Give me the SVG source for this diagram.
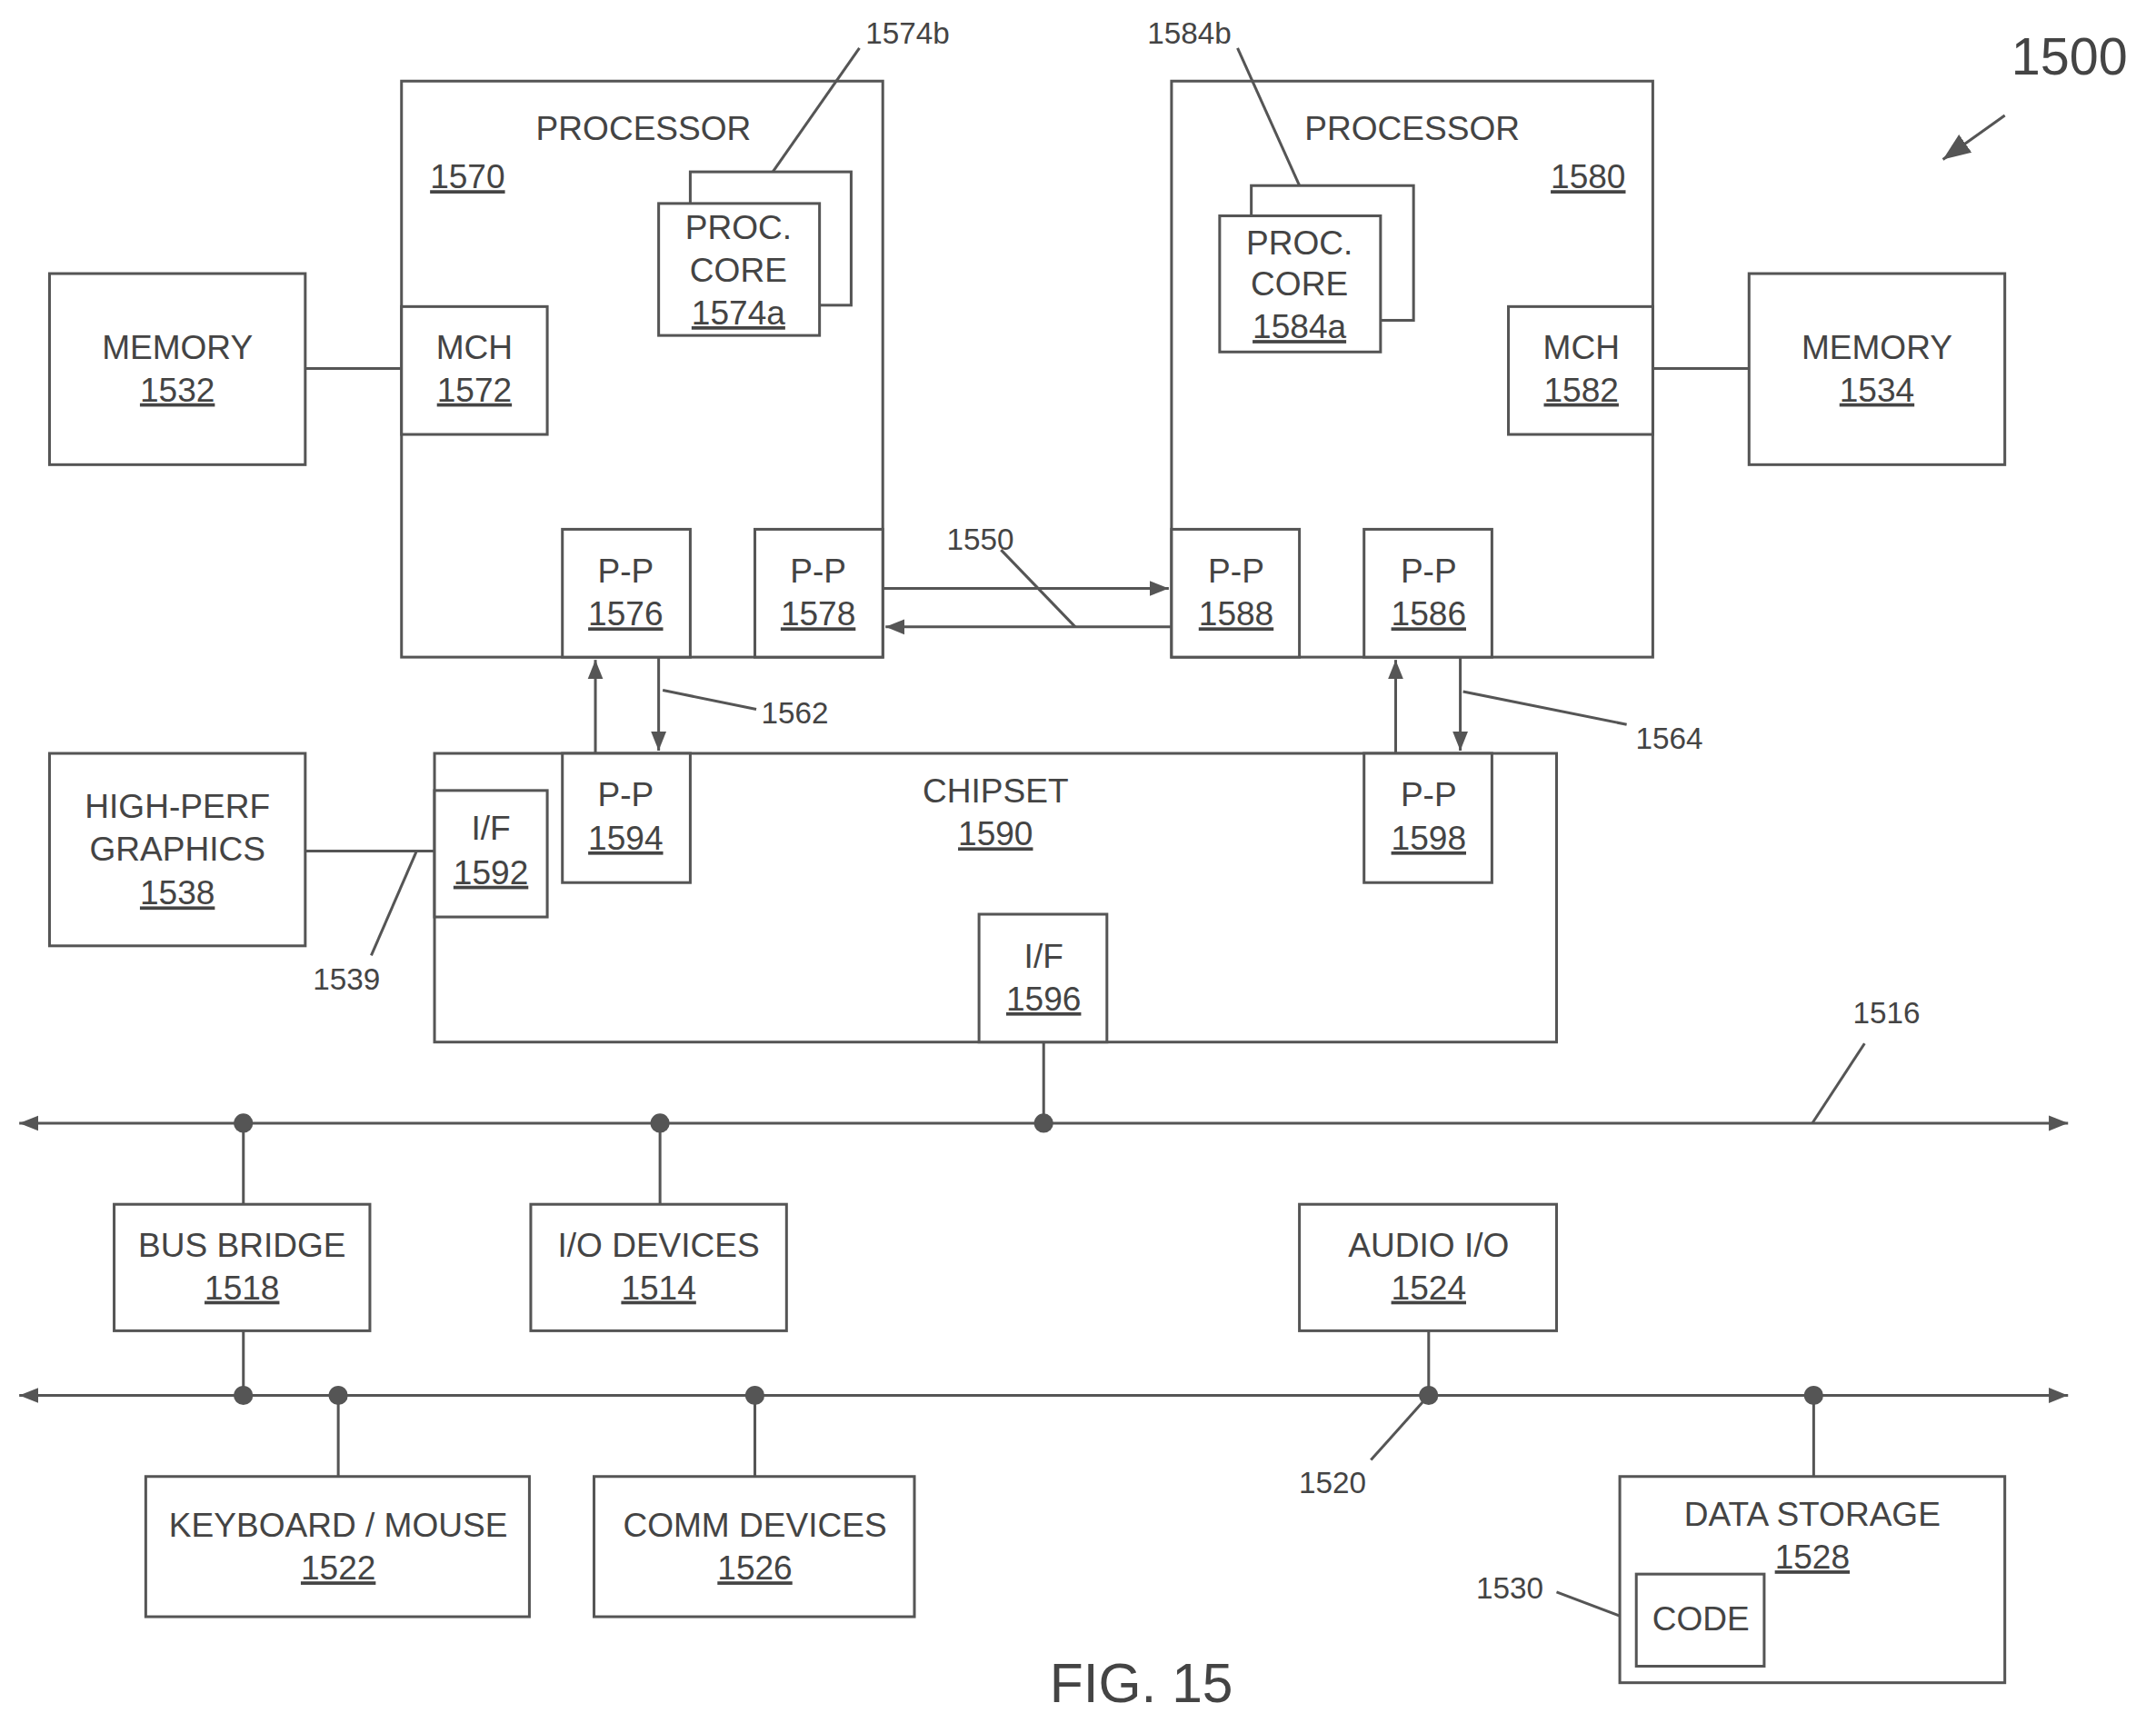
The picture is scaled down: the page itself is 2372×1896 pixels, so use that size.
<svg xmlns="http://www.w3.org/2000/svg" width="2372" height="1896" viewBox="0 0 2372 1896">
<style>
rect{fill:#fff;stroke:#555;stroke-width:2}
line,path{stroke:#555;stroke-width:2;fill:none}
text{font-family:"Liberation Sans",Arial,sans-serif;font-size:24.5px;fill:#444;text-anchor:middle}
.u{text-decoration:underline}
.l{font-size:22px}
circle{fill:#555}
</style>
<defs>
<marker id="b" viewBox="0 0 10 10" refX="10" refY="5" markerWidth="14" markerHeight="14" markerUnits="userSpaceOnUse" orient="auto-start-reverse"><path d="M0,1 L10,5 L0,9 z" style="fill:#555;stroke:none"/></marker>
<marker id="c" viewBox="0 0 10 10" refX="10" refY="5" markerWidth="20" markerHeight="20" markerUnits="userSpaceOnUse" orient="auto"><path d="M0,1 L10,5 L0,9 z" style="fill:#555;stroke:none"/></marker>
</defs>
<rect x="0" y="0" width="2372" height="1896" style="stroke:none"/>
<g transform="scale(1.5128)">
<g id="connectors">
<line x1="222" y1="268" x2="292" y2="268"/>
<line x1="1202" y1="268" x2="1272" y2="268"/>
<line x1="642" y1="428" x2="850" y2="428" marker-end="url(#b)"/>
<line x1="852" y1="456" x2="644" y2="456" marker-end="url(#b)"/>
<line x1="728" y1="400" x2="782" y2="456"/>
<line x1="433" y1="548" x2="433" y2="480" marker-end="url(#b)"/>
<line x1="479" y1="478" x2="479" y2="546" marker-end="url(#b)"/>
<line x1="482" y1="502" x2="550" y2="516"/>
<line x1="1015" y1="548" x2="1015" y2="480" marker-end="url(#b)"/>
<line x1="1062" y1="478" x2="1062" y2="546" marker-end="url(#b)"/>
<line x1="1064" y1="503" x2="1183" y2="527"/>
<line x1="222" y1="619" x2="316" y2="619"/>
<line x1="270" y1="695" x2="303" y2="619"/>
<line x1="14" y1="817" x2="1504" y2="817" marker-start="url(#b)" marker-end="url(#b)"/>
<line x1="14" y1="1015" x2="1504" y2="1015" marker-start="url(#b)" marker-end="url(#b)"/>
<line x1="759" y1="758" x2="759" y2="817"/>
<line x1="1318" y1="817" x2="1356" y2="759"/>
<line x1="177" y1="817" x2="177" y2="876"/>
<line x1="480" y1="817" x2="480" y2="876"/>
<line x1="177" y1="968" x2="177" y2="1015"/>
<line x1="1039" y1="968" x2="1039" y2="1015"/>
<line x1="246" y1="1015" x2="246" y2="1074"/>
<line x1="549" y1="1015" x2="549" y2="1074"/>
<line x1="1319" y1="1015" x2="1319" y2="1074"/>
<line x1="1039" y1="1015" x2="997" y2="1062"/>
<line x1="1132" y1="1158" x2="1190" y2="1180"/>
<line x1="1458" y1="84" x2="1413" y2="116" marker-end="url(#c)"/>
<circle cx="177" cy="817" r="7"/><circle cx="480" cy="817" r="7"/><circle cx="759" cy="817" r="7"/>
<circle cx="177" cy="1015" r="7"/><circle cx="246" cy="1015" r="7"/><circle cx="549" cy="1015" r="7"/><circle cx="1039" cy="1015" r="7"/><circle cx="1319" cy="1015" r="7"/>
</g>
<g id="proc1570"><rect x="292" y="59" width="350" height="419"/><text x="468" y="102">PROCESSOR</text><text x="340" y="137" class="u">1570</text></g>
<g id="core1574"><rect x="502" y="125" width="117" height="97"/><rect x="479" y="148" width="117" height="96"/><text x="537" y="174">PROC.</text><text x="537" y="205">CORE</text><text x="537" y="236" class="u">1574a</text><text x="660" y="32" class="l">1574b</text></g>
<g id="mch1572"><rect x="292" y="223" width="106" height="93"/><text x="345" y="261">MCH</text><text x="345" y="292" class="u">1572</text></g>
<g id="mem1532"><rect x="36" y="199" width="186" height="139"/><text x="129" y="261">MEMORY</text><text x="129" y="292" class="u">1532</text></g>
<g id="pp1576"><rect x="409" y="385" width="93" height="93"/><text x="455" y="424">P-P</text><text x="455" y="455" class="u">1576</text></g>
<g id="pp1578"><rect x="549" y="385" width="93" height="93"/><text x="595" y="424">P-P</text><text x="595" y="455" class="u">1578</text></g>
<g id="proc1580"><rect x="852" y="59" width="350" height="419"/><text x="1027" y="102">PROCESSOR</text><text x="1155" y="137" class="u">1580</text></g>
<g id="core1584"><rect x="910" y="135" width="118" height="98"/><rect x="887" y="157" width="117" height="99"/><text x="945" y="185">PROC.</text><text x="945" y="215">CORE</text><text x="945" y="246" class="u">1584a</text><text x="865" y="32" class="l">1584b</text></g>
<g id="mch1582"><rect x="1097" y="223" width="105" height="93"/><text x="1150" y="261">MCH</text><text x="1150" y="292" class="u">1582</text></g>
<g id="mem1534"><rect x="1272" y="199" width="186" height="139"/><text x="1365" y="261">MEMORY</text><text x="1365" y="292" class="u">1534</text></g>
<g id="pp1588"><rect x="852" y="385" width="93" height="93"/><text x="899" y="424">P-P</text><text x="899" y="455" class="u">1588</text></g>
<g id="pp1586"><rect x="992" y="385" width="93" height="93"/><text x="1039" y="424">P-P</text><text x="1039" y="455" class="u">1586</text></g>
<g id="labels"><text x="713" y="400" class="l">1550</text><text x="578" y="526" class="l">1562</text><text x="1214" y="545" class="l">1564</text><text x="252" y="720" class="l">1539</text><text x="1372" y="744" class="l">1516</text><text x="969" y="1086" class="l">1520</text><text x="1098" y="1163" class="l">1530</text></g>
<g id="chipset"><rect x="316" y="548" width="816" height="210"/><text x="724" y="584">CHIPSET</text><text x="724" y="615" class="u">1590</text></g>
<g id="pp1594"><rect x="409" y="548" width="93" height="94"/><text x="455" y="586">P-P</text><text x="455" y="618" class="u">1594</text></g>
<g id="pp1598"><rect x="992" y="548" width="93" height="94"/><text x="1039" y="586">P-P</text><text x="1039" y="618" class="u">1598</text></g>
<g id="if1592"><rect x="316" y="575" width="82" height="92"/><text x="357" y="611">I/F</text><text x="357" y="643" class="u">1592</text></g>
<g id="if1596"><rect x="712" y="665" width="93" height="93"/><text x="759" y="704">I/F</text><text x="759" y="735" class="u">1596</text></g>
<g id="gfx1538"><rect x="36" y="548" width="186" height="140"/><text x="129" y="595">HIGH-PERF</text><text x="129" y="626">GRAPHICS</text><text x="129" y="658" class="u">1538</text></g>
<g id="bb1518"><rect x="83" y="876" width="186" height="92"/><text x="176" y="914">BUS BRIDGE</text><text x="176" y="945" class="u">1518</text></g>
<g id="io1514"><rect x="386" y="876" width="186" height="92"/><text x="479" y="914">I/O DEVICES</text><text x="479" y="945" class="u">1514</text></g>
<g id="audio1524"><rect x="945" y="876" width="187" height="92"/><text x="1039" y="914">AUDIO I/O</text><text x="1039" y="945" class="u">1524</text></g>
<g id="kb1522"><rect x="106" y="1074" width="279" height="102"/><text x="246" y="1118">KEYBOARD / MOUSE</text><text x="246" y="1149" class="u">1522</text></g>
<g id="comm1526"><rect x="432" y="1074" width="233" height="102"/><text x="549" y="1118">COMM DEVICES</text><text x="549" y="1149" class="u">1526</text></g>
<g id="ds1528"><rect x="1178" y="1074" width="280" height="150"/><text x="1318" y="1110">DATA STORAGE</text><text x="1318" y="1141" class="u">1528</text></g>
<g id="code1530"><rect x="1190" y="1145" width="93" height="67"/><text x="1237" y="1186">CODE</text></g>
<g id="leaders">
<line x1="562" y1="125" x2="625" y2="35"/>
<line x1="945" y1="135" x2="900" y2="35"/>
</g>
<g id="title"><text x="830" y="1238" style="font-size:40px">FIG. 15</text><text x="1505" y="54" style="font-size:38px">1500</text></g>
</g>
</svg>
